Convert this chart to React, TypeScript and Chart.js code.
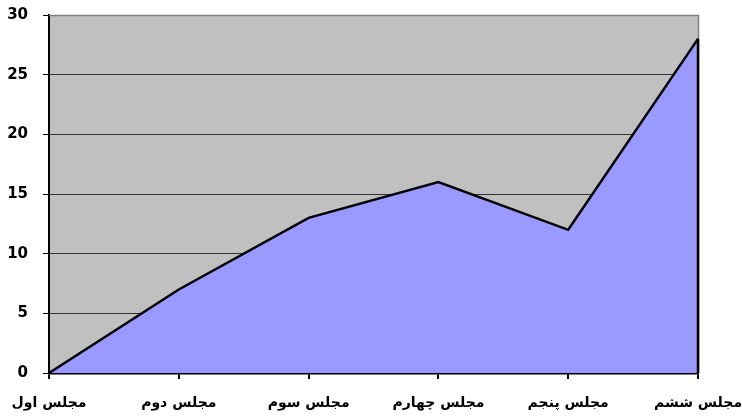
import React, { useEffect, useRef } from "react";
import { Chart, registerables } from "chart.js";

Chart.register(...registerables);

const categories = ["مجلس اول", "مجلس دوم", "مجلس سوم", "مجلس چهارم", "مجلس پنجم", "مجلس ششم"];
const seriesValues = [0, 7, 13, 16, 12, 28];
const yTickMin = 0;
const yTickMax = 30;
const yTickStep = 5;

const plotBgPlugin = {
  id: "plotBg",
  beforeDraw(chart: any) {
    const { ctx, chartArea } = chart;
    ctx.save();
    ctx.fillStyle = "#C0C0C0";
    ctx.fillRect(chartArea.left, chartArea.top, chartArea.right - chartArea.left, chartArea.bottom - chartArea.top);
    ctx.restore();
  },
  beforeDatasetsDraw(chart: any) {
    const { ctx, chartArea } = chart;
    ctx.save();
    ctx.strokeStyle = "#808080";
    ctx.lineWidth = 1.5;
    ctx.beginPath();
    ctx.moveTo(chartArea.left, chartArea.top + 0.5);
    ctx.lineTo(chartArea.right + 0.5, chartArea.top + 0.5);
    ctx.lineTo(chartArea.right + 0.5, chartArea.bottom);
    ctx.stroke();
    ctx.restore();
  },
  afterDatasetsDraw(chart: any) {
    const { ctx } = chart;
    const meta = chart.getDatasetMeta(0);
    const last = meta.data[meta.data.length - 1];
    const yScale = chart.scales.y;
    ctx.save();
    ctx.strokeStyle = "#000";
    ctx.lineWidth = 2.5;
    ctx.beginPath();
    ctx.moveTo(last.x, last.y);
    ctx.lineTo(last.x, yScale.getPixelForValue(0));
    ctx.stroke();
    ctx.restore();
  },
};

export default function App() {
  const ref = useRef<HTMLCanvasElement | null>(null);
  useEffect(() => {
    document.body.style.margin = "0";
    if (!ref.current) return;
    const chart = new Chart(ref.current, {
      type: "line",
      data: {
        labels: categories,
        datasets: [
          {
            data: seriesValues,
            borderColor: "#000",
            borderWidth: 2.5,
            backgroundColor: "#9999FF",
            fill: "origin",
            pointRadius: 0,
            tension: 0,
          },
        ],
      },
      options: {
        animation: false,
        responsive: false,
        maintainAspectRatio: false,
        layout: { padding: { left: 0, top: 15, right: 44, bottom: 0 } },
        plugins: { legend: { display: false }, tooltip: { enabled: false } },
        scales: {
          x: {
            offset: false,
            grid: { drawOnChartArea: false, drawTicks: true, tickLength: 6, tickColor: "#000", lineWidth: 2 },
            border: { color: "#000", width: 2.5 },
            ticks: {
              color: "#000",
              font: { family: "DejaVu Sans", weight: "bold", size: 14 },
              maxRotation: 0,
              minRotation: 0,
              autoSkip: false,
              padding: 16,
            },
            afterFit(scale: any) {
              scale.height = 43;
              scale.paddingLeft = 0;
              scale.paddingRight = 0;
            },
          },
          y: {
            min: yTickMin,
            max: yTickMax,
            grid: {
              color: (c: any) => (c.tick && (c.tick.value === yTickMax || c.tick.value === 0) ? "rgba(0,0,0,0)" : "#333333"),
              lineWidth: 1,
              tickLength: 6,
              tickColor: "#000",
            },
            border: { color: "#000", width: 2 },
            ticks: {
              stepSize: yTickStep,
              color: "#000",
              font: { family: "DejaVu Sans", weight: "bold", size: 15 },
              padding: 15,
            },
            afterFit(scale: any) {
              scale.width = 49;
              scale.paddingTop = 0;
              scale.paddingBottom = 0;
            },
          },
        },
      },
      plugins: [plotBgPlugin],
    } as any);
    return () => chart.destroy();
  }, []);
  return (
    <div style={{ width: 742, height: 416 }}>
      <canvas ref={ref} width={742} height={416} style={{ display: "block" }} />
    </div>
  );
}
